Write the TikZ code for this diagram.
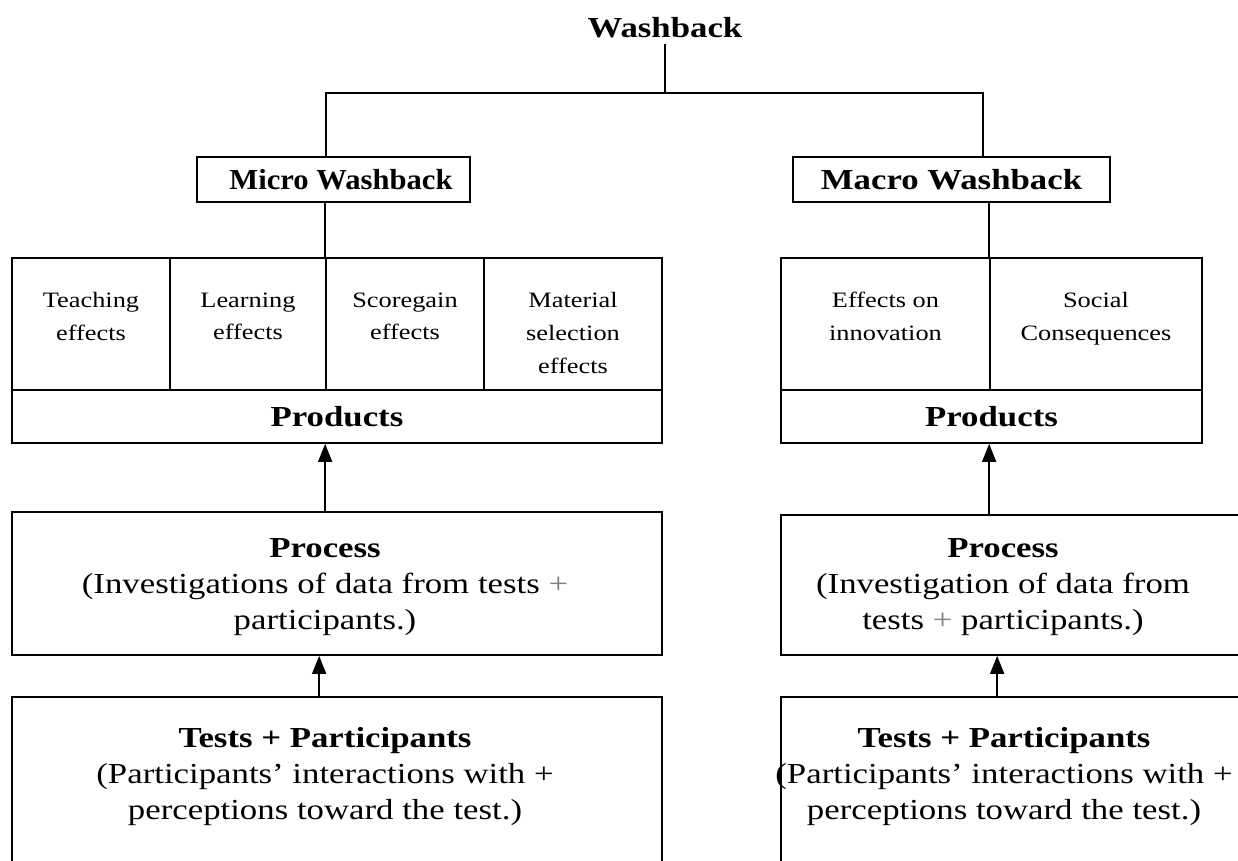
\documentclass[tikz,border=0pt]{standalone}
\usepackage{fontspec}
\setmainfont{Liberation Serif}[FakeStretch=1.2]
\usetikzlibrary{calc}
\usetikzlibrary{arrows.meta}
\usetikzlibrary{positioning}

\tikzset{
  box/.style={draw, line width=1pt, inner sep=0pt},
  hd/.style={font=\bfseries\fontsize{16.5}{20.5}\selectfont},
  body/.style={align=center, inner sep=0pt, font=\fontsize{16.5}{20.5}\selectfont},
  celltext/.style={align=center, inner sep=0pt, font=\fontsize{12.5}{18.7}\selectfont},
  up/.style={-{Triangle[width=0.28cm,length=0.36cm]}, line width=1pt},
  link/.style={line width=1pt},
}

\begin{document}
\begin{tikzpicture}[x=0.02cm, y=-0.02cm]
\useasboundingbox (0,0) rectangle (1238,860);

\node[hd] (wash) at (665,28) {Washback};
\node[box, hd, minimum width=5.46cm, minimum height=0.9cm] (micro) at (333.5,179.5)
  {\hspace*{0.3cm}\scalebox{0.88}[1]{Micro Washback}};
\node[box, hd, minimum width=6.34cm, minimum height=0.9cm] (macro) at (951.5,179.5) {Macro Washback};

\coordinate (jL) at (326,93);
\coordinate (jR) at (983,93);
\draw[link] (wash.south) -- (wash.south |- jL);
\draw[link] (jL |- micro.north) -- (jL) -- (jR) -- (jR |- macro.north);

\foreach \n/\x/\w/\t in {teach/91/3.16/{Teaching\\effects},
                         learn/248/3.12/{Learning\\effects},
                         score/405/3.16/{Scoregain\\effects},
                         mater/573/3.56/{Material\\selection\\effects}} {
  \node[box, minimum width=\w cm, minimum height=2.64cm] (\n) at (\x,324) {};
  \node[celltext, anchor=north] at ([yshift=-0.7cm]\n.north) {\t};
}
\node[box, hd, minimum width=13cm, minimum height=1.06cm] (prodL) at (337,416.5) {Products};

\foreach \n/\x/\w/\t in {effin/885.5/4.18/{Effects on\\innovation},
                         socl/1096/4.24/{Social\\Consequences}} {
  \node[box, minimum width=\w cm, minimum height=2.64cm] (\n) at (\x,324) {};
  \node[celltext, anchor=north] at ([yshift=-0.7cm]\n.north) {\t};
}
\node[box, hd, minimum width=8.42cm, minimum height=1.06cm] (prodR) at (991.5,416.5) {Products};

\draw[link] (micro.south -| score.west) -- (score.north west);
\draw[link] (macro.south -| socl.west) -- (socl.north west);

\node[box, minimum width=13cm, minimum height=2.86cm] (procL) at (337,583.5) {};
\node[body] at ([xshift=-0.24cm, yshift=-0.08cm]procL.center)
  {\textbf{Process}\\(Investigations of data from tests {\color{gray}+}\\participants.)};
\node[box, minimum width=9.28cm, minimum height=2.8cm] (procR) at (1013,585) {};
\node[body] at ([xshift=-0.2cm, yshift=-0.04cm]procR.center)
  {\textbf{Process}\\(Investigation of data from\\tests {\color{gray}+} participants.)};

\node[box, minimum width=13cm, minimum height=3.66cm] (tstL) at (337,788.5) {};
\node[body, anchor=north] at ([xshift=-0.24cm, yshift=-0.61cm]tstL.north)
  {\textbf{Tests + Participants}\\(Participants’ interactions with +\\perceptions toward the test.)};
\node[box, minimum width=9.28cm, minimum height=3.66cm] (tstR) at (1013,788.5) {};
\node[body, anchor=north] at ([xshift=-0.18cm, yshift=-0.61cm]tstR.north)
  {\textbf{Tests + Participants}\\(Participants’ interactions with +\\perceptions toward the test.)};

\draw[up] (procL.north -| score.west) -- (prodL.south -| score.west);
\draw[up] ([xshift=-0.12cm]tstL.north -| score.west) -- ([xshift=-0.12cm]procL.south -| score.west);
\draw[up] (procR.north -| socl.west) -- (prodR.south -| socl.west);
\draw[up] ([xshift=0.16cm]tstR.north -| socl.west) -- ([xshift=0.16cm]procR.south -| socl.west);
\end{tikzpicture}
\end{document}
